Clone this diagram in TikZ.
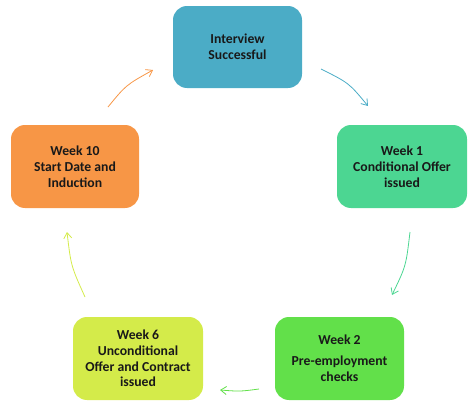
\documentclass[tikz,border=0pt]{standalone}
\usepackage{fontspec}
\setmainfont{Carlito}
\usetikzlibrary{arrows.meta}
\definecolor{cTop}{HTML}{4BACC6}
\definecolor{cW1}{HTML}{4CD692}
\definecolor{cW2}{HTML}{62E04A}
\definecolor{cW6}{HTML}{D4EB4A}
\definecolor{cW10}{HTML}{F79646}
\tikzset{
  stage/.style={rectangle, rounded corners=14pt, draw=none, align=center,
    font=\fontsize{13.7}{15.8}\selectfont\bfseries, text=black!90,
    minimum width=129pt, minimum height=83pt, inner sep=0pt},
  flow/.style={line width=0.8pt, -{Straight Barb[angle=70:7pt]}}
}
\begin{document}
\begin{tikzpicture}[x=1pt,y=-1pt]
\useasboundingbox (0,0) rectangle (475,415);
\node[stage, fill=cTop, minimum height=82pt] (top) at (237.5,47) {Interview\\Successful};
\node[stage, fill=cW1, minimum width=130pt] (w1) at (402,166.5) {Week 1\\Conditional Offer\\issued};
\node[stage, fill=cW2] (w2) at (339.5,358.5) {Week 2\\[5pt]Pre-employment\\checks};
\node[stage, fill=cW6, minimum width=130pt] (w6) at (138,358.5) {Week 6\\Unconditional\\Offer and Contract\\issued};
\node[stage, fill=cW10, minimum width=128pt] (w10) at (75,166.5) {Week 10\\Start Date and\\Induction};
\coordinate (a1) at (321,69);  \coordinate (b1) at (368,106);
\coordinate (a2) at (410,232); \coordinate (b2) at (392,295);
\coordinate (a3) at (259,389); \coordinate (b3) at (220,390);
\coordinate (a4) at (85,297);  \coordinate (b4) at (67,232);
\coordinate (a5) at (108,107); \coordinate (b5) at (153,70);
\draw[flow, draw=cTop] (a1) .. controls (349,83) .. (b1);
\draw[flow, draw=cW1] (a2) .. controls (406,266) .. (b2);
\draw[flow, draw=cW2] (a3) .. controls (240,391.5) .. (b3);
\draw[flow, draw=cW6] (a4) .. controls (71,266) .. (b4);
\draw[flow, draw=cW10] (a5) .. controls (126,85) .. (b5);
\end{tikzpicture}
\end{document}
